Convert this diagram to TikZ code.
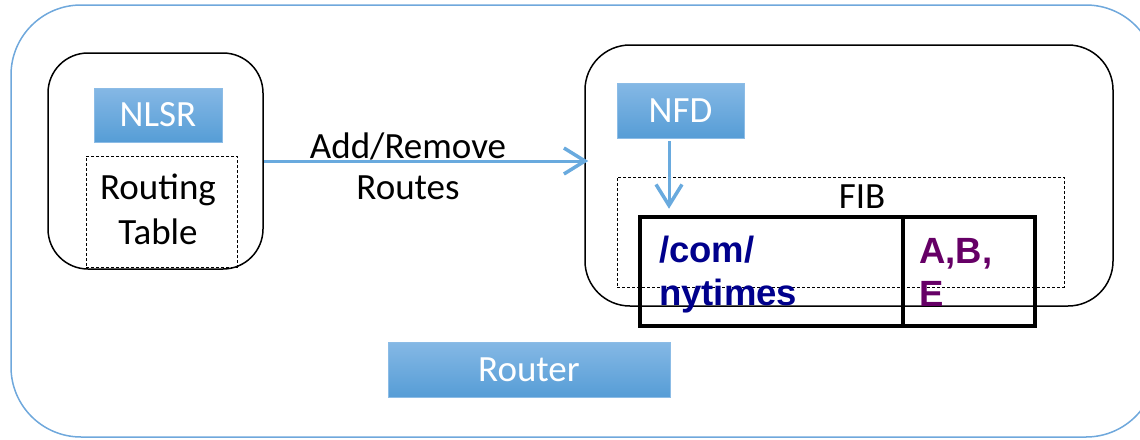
\documentclass[tikz,border=0pt]{standalone}
\usepackage{fontspec}
\setmainfont{Carlito}
\newfontfamily\arialfont{Liberation Sans}
\usetikzlibrary{arrows.meta}
\definecolor{frameblue}{RGB}{111,168,220}
\definecolor{boxtop}{RGB}{133,184,229}
\definecolor{boxbot}{RGB}{86,157,214}
\definecolor{boxedge}{RGB}{140,188,230}
\definecolor{arrowblue}{RGB}{105,170,222}
\definecolor{prefixblue}{RGB}{0,0,140}
\definecolor{hoppurple}{RGB}{102,0,102}
\tikzset{
  calib/.style={font=\fontsize{37}{44}\selectfont},
  outerbox/.style={draw=frameblue, line width=1.5pt, rounded corners=70pt, inner sep=0pt},
  procbox/.style={draw=black, line width=1.5pt, rounded corners=#1, inner sep=0pt},
  bluebox/.style={draw=boxedge, line width=0.8pt, top color=boxtop, bottom color=boxbot, text=white, calib, inner sep=0pt},
  dashbox/.style={draw=black, densely dashed, line width=0.8pt, inner sep=0pt},
  tablecell/.style={draw=black, line width=4.5pt, inner sep=0pt},
  flowarrow/.style={draw=arrowblue, line width=3pt, -{Straight Barb[length=21pt,width=26pt,line width=3.5pt]}},
  lbl/.style={calib, inner sep=0pt},
  entry/.style={font=\arialfont\bfseries\fontsize{36.5}{44}\selectfont, inner sep=0pt, anchor=base west},
}
\begin{document}
\begin{tikzpicture}[x=1pt,y=-1pt]
\useasboundingbox (0,0) rectangle (1140,439);
% router frame
\node[outerbox, minimum width=1145pt, minimum height=432pt] (frame) at (583.5,221) {};
% left process box
\node[procbox=40pt, minimum width=215pt, minimum height=216pt] (leftbox) at (155.5,161) {};
\node[bluebox, minimum width=128pt, minimum height=54pt] (nlsr) at (158,115) {NLSR};
\node[dashbox, minimum width=151pt, minimum height=111pt] (rtable) at (161.5,211.5) {};
\node[lbl] (rt1) at (158,190) {Routing};
\node[lbl] (rt2) at (158,232) {Table};
% right process box
\node[procbox=45pt, minimum width=528pt, minimum height=261pt] (rightbox) at (849,175.5) {};
\node[bluebox, minimum width=127pt, minimum height=55pt] (nfd) at (680.5,110.5) {NFD};
\node[dashbox, minimum width=447pt, minimum height=110pt] (fib) at (840.5,232) {};
\node[lbl] (fiblbl) at (862,197) {FIB};
% FIB table
\node[tablecell, minimum width=263pt, minimum height=109pt] (cell1) at (771.5,271.5) {};
\node[tablecell, minimum width=132pt, minimum height=109pt] (cell2) at (969,271.5) {};
\node[entry, text=prefixblue] (p1) at (659,262) {/com/};
\node[entry, text=prefixblue] (p2) at (659,305) {nytimes};
\node[entry, text=hoppurple] (h1) at (919,263) {A,B,};
\node[entry, text=hoppurple] (h2) at (919,306) {E};
% router label
\node[bluebox, minimum width=282pt, minimum height=55pt] (router) at (529,369.5) {Router};
% arrows
\coordinate (ay) at (0,161);
\coordinate (nx) at (669,0);
\draw[flowarrow] (leftbox.east) -- ([xshift=4pt]rightbox.west |- ay);
\node[lbl] (add) at (408,146) {Add/Remove};
\node[lbl] (routes) at (408,188) {Routes};
\draw[flowarrow] (nx |- nfd.south) ++(0,3) -- ([yshift=6pt]nx |- cell1.north);
\end{tikzpicture}
\end{document}
